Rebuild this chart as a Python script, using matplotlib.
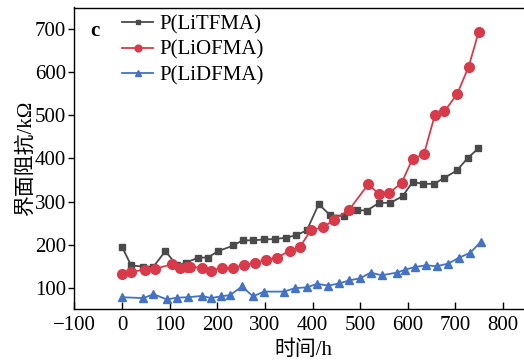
import matplotlib
matplotlib.use("Agg")
import matplotlib.pyplot as plt

t_tf = [0, 19, 43, 66, 91, 115, 134, 160, 180, 202, 234, 253, 276, 299, 321, 344, 366, 388, 413,
        437, 467, 493, 514, 540, 563, 589, 610, 633, 655, 677, 703, 726, 748]
v_tf = [195, 152, 149, 149, 185, 152, 158, 170, 170, 185, 198, 210, 210, 212, 213, 216, 222, 233, 294,
        268, 267, 280, 279, 297, 297, 312, 345, 341, 341, 355, 372, 401, 423]

t_of = [0, 19, 49, 69, 104, 122, 137, 143, 167, 186, 209, 232, 256, 279, 302, 326, 352, 374, 396,
        421, 445, 477, 517, 540, 561, 587, 610, 634, 657, 677, 704, 728, 749]
v_of = [131, 137, 142, 144, 154, 146, 149, 149, 146, 139, 146, 146, 152, 158, 164, 170, 186, 195, 233,
        240, 257, 281, 340, 317, 320, 343, 399, 410, 501, 509, 550, 613, 694]

t_df = [0, 45, 66, 94, 115, 139, 167, 187, 207, 227, 252, 275, 298, 340, 363, 388, 410,
        433, 456, 477, 500, 522, 545, 577, 595, 615, 638, 661, 685, 708, 731, 753]
v_df = [78, 76, 85, 73, 77, 78, 81, 76, 80, 83, 103, 80, 91, 91, 99, 101, 109,
        105, 110, 117, 122, 135, 129, 135, 142, 148, 152, 150, 156, 170, 181, 206]

labels = ["P(LiTFMA)", "P(LiOFMA)", "P(LiDFMA)"]
x_ticks = [-100, 0, 100, 200, 300, 400, 500, 600, 700, 800]
y_ticks = [100, 200, 300, 400, 500, 600, 700]

serif = ["Liberation Serif", "DejaVu Serif"]
cjk = ["Liberation Serif", "Noto Sans CJK SC"]
fs = 15

fig = plt.figure(figsize=(5.24, 3.6), dpi=100)
ax = fig.add_axes([74.4 / 524, 50.7 / 360, (531.6 - 74.4) / 524, (309.3 - 7.5) / 360])

ax.plot(t_tf, v_tf, color="#4a4a4a", marker="s", markersize=4.5, lw=1.3, label=labels[0])
ax.plot(t_of, v_of, color="#d93a4a", marker="o", markersize=7, lw=1.3, label=labels[1])
ax.plot(t_df, v_df, color="#4472c4", marker="^", markersize=6, lw=1.3, label=labels[2])

ax.set_xlim(-100, 860)
ax.set_ylim(50, 750)
ax.set_xticks(x_ticks)
ax.set_yticks(y_ticks)
ax.spines["right"].set_visible(False)
for s in ax.spines.values():
    s.set_linewidth(1.0)
ax.tick_params(axis="x", direction="in", length=5, width=1, labelsize=fs, pad=5)
ax.tick_params(axis="y", direction="out", length=4, width=1, labelsize=fs, pad=2)
for lab in ax.get_xticklabels() + ax.get_yticklabels():
    lab.set_fontfamily(serif)

ax.set_xlabel("时间/h", fontsize=fs, family=cjk, labelpad=4)
ax.set_ylabel("界面阻抗/kΩ", fontsize=fs, family=cjk, labelpad=-1)

ax.text(0.035, 0.955, "c", transform=ax.transAxes, fontsize=fs, family=serif,
        fontweight="bold", va="top", ha="left")

leg = ax.legend(loc="upper left", bbox_to_anchor=(0.104, 0.975), frameon=False,
                prop={"family": serif, "size": fs}, handlelength=1.5, handletextpad=0.3,
                labelspacing=0.27, borderaxespad=0, borderpad=0, markerscale=0.7)

fig.savefig("out.png", dpi=100)
